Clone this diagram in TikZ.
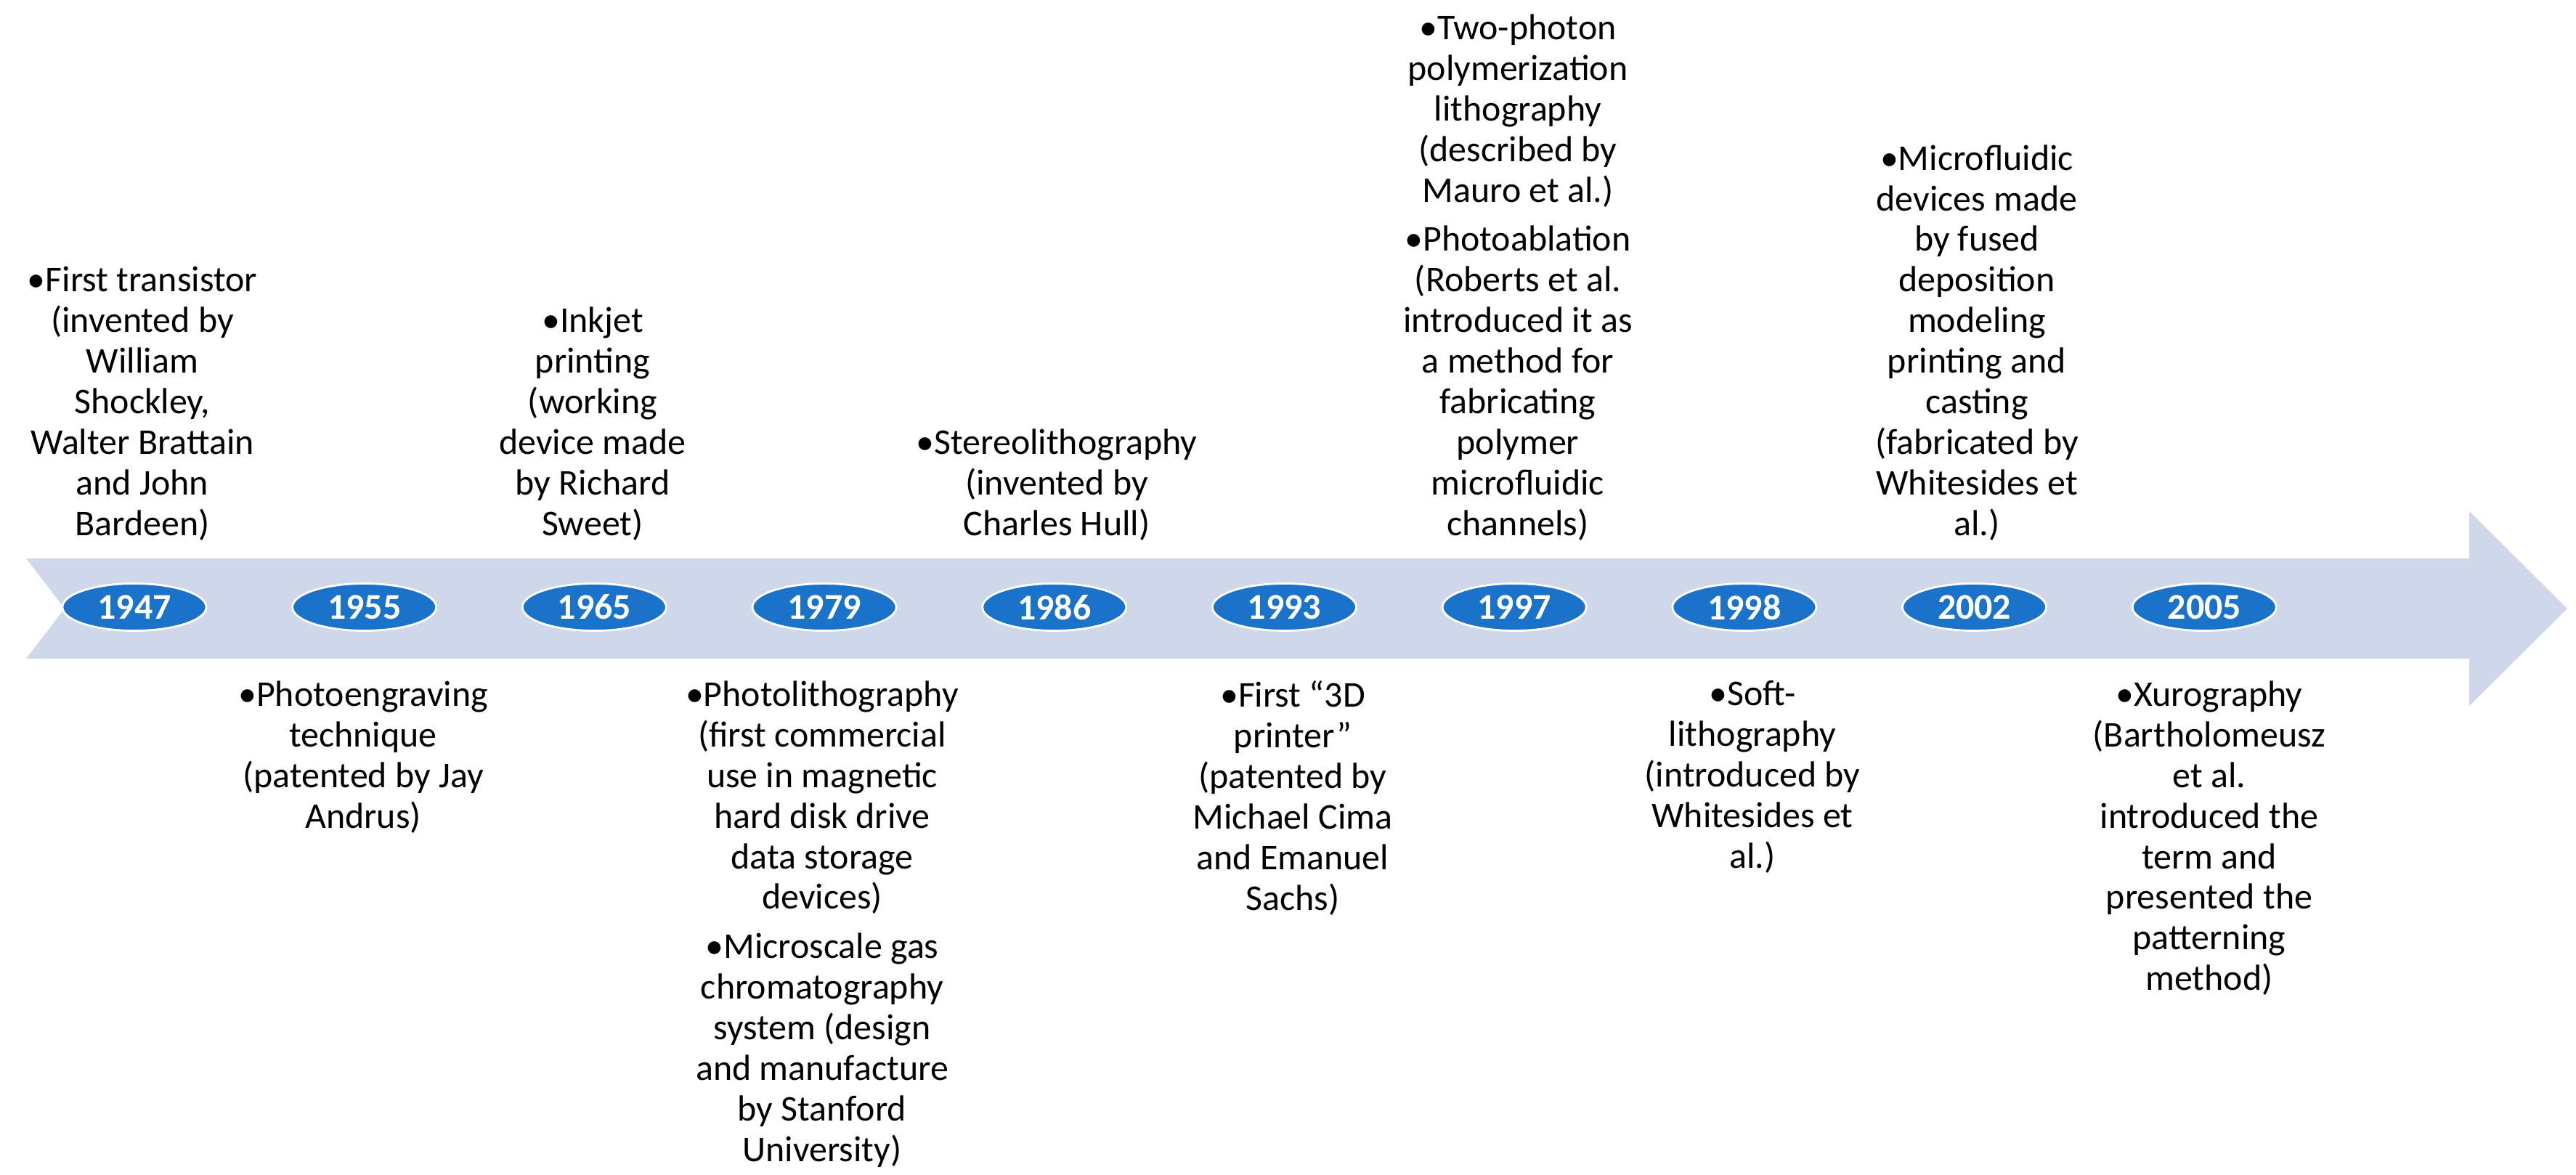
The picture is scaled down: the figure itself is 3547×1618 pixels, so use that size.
\documentclass[tikz,border=0pt]{standalone}
\usepackage{fontspec}
\setmainfont{Carlito}
\usetikzlibrary{shapes.geometric}
\definecolor{arrowfill}{HTML}{CFD8EB}
\definecolor{yearblue}{HTML}{1A73C8}
\begin{document}
\begin{tikzpicture}[x=0.01cm,y=-0.01cm,
  yearnode/.style={ellipse, fill=yearblue, draw=white, line width=0.8pt,
    minimum width=1.98cm, minimum height=0.65cm, inner sep=0pt, text=white,
    font=\fontsize{14.2}{16}\selectfont\bfseries},
  evtext/.style={align=center, inner sep=0pt, font=\fontsize{14.2}{15.9}\selectfont},
  uppertext/.style={evtext, anchor=south},
  lowertext/.style={evtext, anchor=north}]
\useasboundingbox (0,0) rectangle (3547,1618);
% timeline arrow
\path[fill=arrowfill] (36,769) -- (3400,769) -- (3400,704) -- (3535,838)
  -- (3400,972) -- (3400,907) -- (36,907) -- (89,838) -- cycle;
% year ellipses
\foreach \yr [count=\i from 0] in {1947,1955,1965,1979,1986,1993,1997,1998,2002,2005}
  \node[yearnode] (y\yr) at ({185+316.7*\i},836) {\yr};
% upper texts
\node[uppertext] (t1947) at (196,745) {•First transistor\\(invented by\\William\\Shockley,\\Walter Brattain\\and John\\Bardeen)};
\node[uppertext] (t1965) at (816,745) {•Inkjet\\printing\\(working\\device made\\by Richard\\Sweet)};
\node[uppertext] (t1986) at (1455,745) {•Stereolithography\\(invented by\\Charles Hull)};
\node[uppertext] (t1997) at (2090,745) {•Two-photon\\polymerization\\lithography\\(described by\\Mauro et al.)\\[0.12cm]•Photoablation\\(Roberts et al.\\introduced it as\\a method for\\fabricating\\polymer\\microfluidic\\channels)};
\node[uppertext] (t2002) at (2722,745) {•Microfluidic\\devices made\\by fused\\deposition\\modeling\\printing and\\casting\\(fabricated by\\Whitesides et\\al.)};
% lower texts
\node[lowertext] (t1955) at (500,937) {•Photoengraving\\technique\\(patented by Jay\\Andrus)};
\node[lowertext] (t1979) at (1132,937) {•Photolithography\\(first commercial\\use in magnetic\\hard disk drive\\data storage\\devices)\\[0.12cm]•Microscale gas\\chromatography\\system (design\\and manufacture\\by Stanford\\University)};
\node[lowertext] (t1993) at (1780,937) {•First “3D\\printer”\\(patented by\\Michael Cima\\and Emanuel\\Sachs)};
\node[lowertext] (t1998) at (2413,937) {•Soft-\\lithography\\(introduced by\\Whitesides et\\al.)};
\node[lowertext] (t2005) at (3042,937) {•Xurography\\(Bartholomeusz\\et al.\\introduced the\\term and\\presented the\\patterning\\method)};
\end{tikzpicture}
\end{document}
